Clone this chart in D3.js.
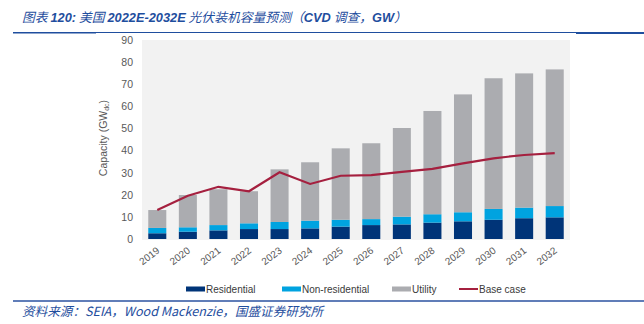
<!DOCTYPE html>
<html><head><meta charset="utf-8">
<script src="https://cdn.jsdelivr.net/npm/d3@7"></script>
<style>
html,body{margin:0;padding:0;background:#fff;}
svg{display:block;}
</style></head>
<body>
<svg id="c" width="644" height="324"></svg>
<script>
const years = ["2019","2020","2021","2022","2023","2024","2025","2026","2027","2028","2029","2030","2031","2032"];
const residential = [2.6,3.3,3.9,4.5,4.5,4.8,5.6,6.3,6.6,7.4,8.0,8.7,9.4,9.8];
const nonResidential = [2.4,2.0,2.4,2.6,3.2,3.5,3.1,2.7,3.5,3.8,4.1,4.9,4.8,5.1];
const utility = [8.1,14.6,16.2,14.5,23.8,26.4,32.3,34.3,40.1,46.7,53.3,59.1,60.7,61.8];
const baseCase = [13.1,19.6,23.6,21.6,30.2,24.9,28.6,28.9,30.4,31.7,34.2,36.5,38.0,38.8];
const yTicks = [0,10,20,30,40,50,60,70,80,90];
const seriesNames = ["Residential","Non-residential","Utility"];
const colors = {"Residential":"#003478","Non-residential":"#00a3e0","Utility":"#abacb0","Base case":"#a5203f"};

const svg = d3.select("#c");
const x = d3.scaleBand().domain(years).range([142,570]).paddingInner(0.41).paddingOuter(0.205);
const y = d3.scaleLinear().domain([0,90]).range([239,40]);

// title
const title = svg.append("text").attr("x",22).attr("y",22).attr("fill","#1f4e9e")
  .attr("font-size","12.8px").attr("font-style","italic");
const parts = [["图表 ",0],["120:",1],[" 美国 ",0],["2022E-2032E",1],[" 光伏装机容量预测（",0],["CVD",1],[" 调查，",0],["GW",1],["）",0]];
parts.forEach(p=>{
  title.append("tspan").text(p[0])
    .attr("font-family", p[1] ? "Liberation Sans, Arial, sans-serif" : "Noto Sans CJK SC, sans-serif")
    .attr("font-weight", p[1] ? "bold" : "normal");
});
// rules
svg.append("line").attr("x1",13).attr("x2",644).attr("y1",32.5).attr("y2",32.5).attr("stroke","#1f4e9e").attr("stroke-width",1);
svg.append("line").attr("x1",13).attr("x2",96).attr("y1",32.8).attr("y2",32.8).attr("stroke","#1f4e9e").attr("stroke-width",1.6);
svg.append("line").attr("x1",576).attr("x2",644).attr("y1",33).attr("y2",33).attr("stroke","#1f4e9e").attr("stroke-width",2);
svg.append("line").attr("x1",13).attr("x2",644).attr("y1",301).attr("y2",301).attr("stroke","#2b52a0").attr("stroke-width",1.5);

// footer
svg.append("text").attr("x",22).attr("y",316).attr("fill","#1f4e9e").attr("font-size","12.6px").attr("font-style","italic")
  .attr("font-family","Noto Sans CJK SC, sans-serif").text("资料来源：SEIA，Wood Mackenzie，国盛证券研究所");

// plot background
svg.append("rect").attr("x",142).attr("y",y(90)).attr("width",428).attr("height",y(0)-y(90)+1).attr("fill","#f2f2f2");

// stacked bars
const table = years.map((yr,i)=>({year:yr,"Residential":residential[i],"Non-residential":nonResidential[i],"Utility":utility[i]}));
const stack = d3.stack().keys(seriesNames)(table);
svg.append("g").selectAll("g").data(stack).join("g").attr("fill",d=>colors[d.key])
  .selectAll("rect").data(d=>d).join("rect")
  .attr("x",d=>x(d.data.year)).attr("width",x.bandwidth())
  .attr("y",d=>y(d[1])).attr("height",d=>y(d[0])-y(d[1]));

// line
const line = d3.line().x((d,i)=>x(years[i])+x.bandwidth()/2).y(d=>y(d));
svg.append("path").datum(baseCase).attr("d",line).attr("fill","none").attr("stroke",colors["Base case"]).attr("stroke-width",2.2);

// y axis
const yAxis = svg.append("g").attr("transform","translate(142,0)")
  .call(d3.axisLeft(y).tickValues(yTicks).tickSize(0).tickPadding(9));
yAxis.select(".domain").remove();
yAxis.selectAll("text").attr("font-family","Liberation Sans, Arial, sans-serif").attr("font-size","10.5px").attr("fill","#595959");

// y axis title
const yt = svg.append("text").attr("transform","translate(107,138) rotate(-90)").attr("text-anchor","middle")
  .attr("font-family","Liberation Sans, Arial, sans-serif").attr("font-size","10.5px").attr("fill","#595959");
yt.append("tspan").text("Capacity (GW");
yt.append("tspan").text("dc").attr("font-size","7px").attr("dy",2);
yt.append("tspan").text(")").attr("dy",-2);

// x axis
const xAxis = svg.append("g").attr("transform","translate(0,240)")
  .call(d3.axisBottom(x).tickSize(0).tickPadding(0));
xAxis.select(".domain").remove();
xAxis.selectAll("text").attr("font-family","Liberation Sans, Arial, sans-serif").attr("font-size","10px").attr("fill","#595959")
  .attr("text-anchor","end").attr("dy",null).attr("y",null)
  .attr("transform","translate(3,12) rotate(-37)");

// legend
const legendItems = ["Residential","Non-residential","Utility","Base case"];
const legendX = [186,282,392,459];
const lg = svg.append("g");
legendItems.forEach((k,i)=>{
  if(k==="Base case"){
    lg.append("line").attr("x1",legendX[i]).attr("x2",legendX[i]+19).attr("y1",289).attr("y2",289).attr("stroke",colors[k]).attr("stroke-width",2);
  } else {
    lg.append("rect").attr("x",legendX[i]).attr("y",286.5).attr("width",19).attr("height",5).attr("fill",colors[k]);
  }
  lg.append("text").attr("x",legendX[i]+20).attr("y",292.5).text(k)
    .attr("font-family","Liberation Sans, Arial, sans-serif").attr("font-size","10px").attr("fill","#3a3a3a");
});
</script>
</body></html>
